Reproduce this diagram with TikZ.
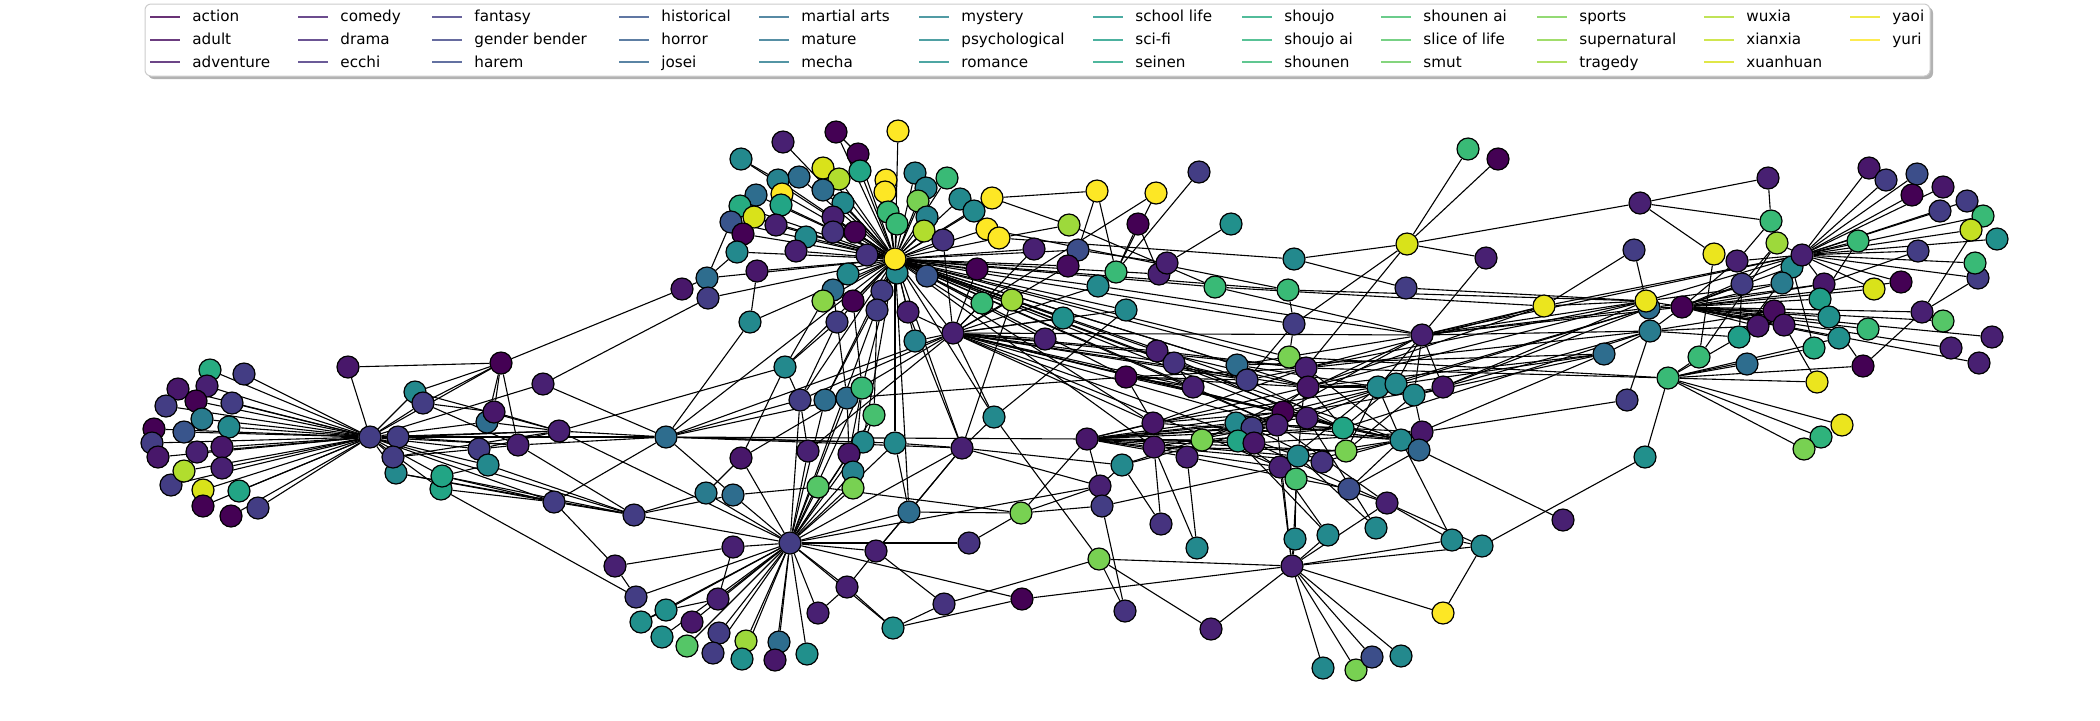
\documentclass[tikz,border=0pt]{standalone}
\usepackage{fontspec}
\setmainfont{DejaVu Sans}
\usetikzlibrary{backgrounds}
\definecolor{v0}{RGB}{68,1,84}
\definecolor{v1}{RGB}{70,12,95}
\definecolor{v2}{RGB}{72,23,106}
\definecolor{v3}{RGB}{72,32,114}
\definecolor{v4}{RGB}{71,42,121}
\definecolor{v5}{RGB}{70,51,127}
\definecolor{v6}{RGB}{67,61,132}
\definecolor{v7}{RGB}{64,70,135}
\definecolor{v8}{RGB}{60,78,138}
\definecolor{v9}{RGB}{57,85,140}
\definecolor{v10}{RGB}{53,94,141}
\definecolor{v11}{RGB}{49,102,142}
\definecolor{v12}{RGB}{46,109,142}
\definecolor{v13}{RGB}{44,116,142}
\definecolor{v14}{RGB}{41,123,142}
\definecolor{v15}{RGB}{38,130,142}
\definecolor{v16}{RGB}{35,137,141}
\definecolor{v17}{RGB}{33,144,140}
\definecolor{v18}{RGB}{31,151,139}
\definecolor{v19}{RGB}{32,158,136}
\definecolor{v20}{RGB}{34,165,133}
\definecolor{v21}{RGB}{39,172,129}
\definecolor{v22}{RGB}{47,179,124}
\definecolor{v23}{RGB}{57,186,118}
\definecolor{v24}{RGB}{71,192,111}
\definecolor{v25}{RGB}{85,198,103}
\definecolor{v26}{RGB}{102,203,93}
\definecolor{v27}{RGB}{120,209,82}
\definecolor{v28}{RGB}{138,213,71}
\definecolor{v29}{RGB}{157,217,59}
\definecolor{v30}{RGB}{177,221,46}
\definecolor{v31}{RGB}{197,224,35}
\definecolor{v32}{RGB}{217,226,26}
\definecolor{v33}{RGB}{235,229,30}
\definecolor{v34}{RGB}{253,231,37}
\tikzset{
  nd/.style={circle, draw=black, line width=0.6pt, minimum size=11pt, inner sep=0pt},
  ed/.style={line width=0.55pt, black},
  legline/.style={line width=1pt, opacity=0.8},
  legtext/.style={anchor=base west, inner sep=0pt, font=\fontsize{7.6}{9}\selectfont}
}
\begin{document}
\begin{tikzpicture}[x=0.5pt,y=-0.5pt]
\useasboundingbox (0,0) rectangle (2100,720);
% legend
\fill[black!60, opacity=0.5, rounded corners=3] (148,7) rectangle (1933,79);
\filldraw[fill=white, draw=black!20, line width=0.5pt, rounded corners=3] (145,4) rectangle (1930,76);
\foreach \x/\y/\c/\t in {
150/16.5/0/action,150/39.5/1/adult,150/62/2/adventure,
298/16.5/3/comedy,298/39.5/4/drama,298/62/5/ecchi,
432/16.5/6/fantasy,432/39.5/7/gender bender,432/62/8/harem,
619/16.5/9/historical,619/39.5/10/horror,619/62/11/josei,
759/16.5/12/martial arts,759/39.5/13/mature,759/62/14/mecha,
919/16.5/15/mystery,919/39.5/16/psychological,919/62/17/romance,
1093/16.5/18/school life,1093/39.5/19/sci-fi,1093/62/20/seinen,
1242/16.5/21/shoujo,1242/39.5/22/shoujo ai,1242/62/23/shounen,
1381/16.5/24/shounen ai,1381/39.5/25/slice of life,1381/62/26/smut,
1537/16.5/27/sports,1537/39.5/28/supernatural,1537/62/29/tragedy,
1704/16.5/30/wuxia,1704/39.5/31/xianxia,1704/62/32/xuanhuan,
1850/16.5/33/yaoi,1850/39.5/34/yuri}{
  \coordinate (l\c a) at (\x,\y);
  \coordinate (l\c b) at (\x+30,\y);
  \draw[legline, color=v\c] (l\c a) -- (l\c b);
  \node[legtext] (lt\c) at (\x+42,\y+5) {\t};
}
% nodes
\foreach \i/\x/\y/\c in {
1/210/370/21,2/178/389/2,3/207/386/3,4/244/374/6,5/196/401/0,6/166/406/6,7/232/403/6,
8/202/419/14,9/229/427/16,10/154/429/0,11/184/432/9,12/152/443/6,13/158/457/2,14/197/452/3,
15/222/447/2,18/171/485/6,16/184/471/30,17/222/468/3,19/203/490/32,20/239/491/20,21/203/506/0,
22/231/516/0,23/258/508/6,24/370/437/6,25/348/367/2,26/398/437/6,28/396/473/16,27/393/457/6,
29/415/392/16,30/423/403/6,32/441/489/20,31/442/476/20,33/479/449/6,34/488/465/16,35/487/422/12,
36/494/412/2,37/518/445/3,38/501/363/0,39/543/384/3,40/559/431/3,41/554/502/6,42/634/515/6,
43/615/566/3,44/636/597/6,45/666/437/12,46/790/543/6,47/733/547/3,48/706/493/14,49/733/495/12,
50/741/458/2,51/718/599/3,52/666/610/17,53/641/622/17,54/692/622/2,55/662/637/17,56/719/633/6,
57/746/641/29,58/779/642/12,59/687/646/25,60/713/653/6,61/742/659/17,62/775/660/2,63/807/654/17,
64/818/613/3,65/847/587/3,66/876/551/3,67/893/628/17,
68/783/142/3,69/836/132/0,70/898/131/34,71/741/159/16,72/858/154/0,73/823/168/32,74/839/179/30,
75/860/171/20,76/799/177/12,77/778/180/15,78/782/194/34,79/823/190/12,80/886/180/34,81/885/192/34,
82/756/195/12,83/843/203/16,84/740/206/21,85/781/205/20,86/888/212/23,87/754/217/32,88/731/222/9,
89/833/217/3,90/776/225/3,91/897/224/23,92/743/234/0,93/833/232/5,94/855/232/0,95/806/237/16,
96/796/251/3,97/737/252/16,98/867/255/5,100/897/273/16,99/895/259/34,101/757/271/2,102/707/278/12,
103/848/274/16,104/682/289/2,105/708/298/6,106/833/290/12,107/882/291/6,108/823/301/28,
109/853/301/0,110/877/310/6,111/837/322/6,112/750/322/16,113/908/312/3,114/785/367/16,
115/915/173/15,116/947/178/23,117/926/188/15,118/960/199/16,119/918/201/27,120/992/198/34,
121/974/211/16,122/927/217/15,123/924/231/30,124/987/229/34,125/999/238/34,126/943/240/5,
127/1097/191/34,128/1156/193/34,129/1199/172/6,130/1231/224/17,131/1069/225/29,132/1138/224/0,
133/1034/249/3,134/1078/250/8,135/927/276/9,136/977/269/0,137/1068/266/1,138/1116/272/23,
139/1159/274/3,140/1167/263/3,141/1098/286/16,142/1215/287/23,143/982/303/23,144/1012/300/29,
145/1126/310/16,146/1063/318/17,147/915/341/15,148/953/333/3,149/1045/339/3,150/1157/351/3,
151/1174/363/5,152/1126/377/0,153/1193/387/3,154/1237/365/12,155/1247/380/6,
156/1468/149/23,157/1498/159/0,158/1640/203/3,159/1407/244/32,160/1294/259/16,161/1486/258/3,
162/1288/290/23,163/1406/288/6,164/1634/250/6,165/1544/306/33,166/1649/308/12,167/1646/301/33,
168/1294/324/6,169/1422/335/3,170/1650/331/14,171/1604/354/12,172/1289/357/27,173/1306/368/3,
174/1308/387/2,175/1378/387/16,176/1396/384/16,177/1414/395/16,178/1443/387/2,180/1627/400/6,
181/1768/178/3,182/1869/168/2,183/1886/180/6,184/1917/174/8,185/1912/195/0,186/1943/187/2,
187/1967/201/6,188/1940/211/6,189/1983/216/23,190/1971/230/31,191/1997/239/17,192/1771/221/23,
193/1777/243/29,194/1858/241/23,195/1714/254/33,196/1737/261/3,197/1792/267/16,198/1802/255/3,
199/1918/251/6,200/1978/278/6,201/1975/263/23,202/1742/284/6,203/1782/283/14,204/1824/284/2,
205/1901/282/0,206/1874/289/32,207/1820/299/19,208/1682/307/0,209/1774/311/1,210/1829/317/17,
211/1922/312/3,212/1943/321/25,213/1758/326/2,214/1784/325/2,215/1739/337/19,216/1868/329/23,
217/1839/338/17,218/1992/337/3,219/1951/348/3,220/1814/348/21,221/1699/357/23,222/1747/364/12,
223/1863/366/0,224/1979/363/3,225/1668/378/23,226/1817/382/33,227/1842/425/33,228/1821/437/22,
229/1804/449/27,230/1645/457/17,
231/994/417/16,232/895/443/16,233/962/448/3,234/1087/439/2,235/1153/423/2,236/1154/447/2,
237/1202/440/27,238/1187/457/3,239/1236/423/16,240/1252/428/6,241/1238/441/20,242/1254/443/2,
243/1283/412/0,244/1277/425/3,245/1307/418/3,246/1280/467/3,247/1122/465/16,248/1100/486/3,
249/1102/506/6,250/909/512/12,251/1021/513/27,252/1161/524/5,253/969/543/5,254/1197/548/16,
255/1099/559/27,256/944/604/5,257/1022/599/0,258/1125/611/5,259/1211/629/3,
262/1343/428/20,263/1422/432/2,264/1401/440/16,265/1419/450/11,266/1346/451/27,267/1298/456/16,
268/1322/462/5,269/1296/479/24,270/1349/489/8,271/1387/503/3,272/1563/520/3,273/1376/528/16,
274/1328/535/16,275/1295/539/16,276/1452/540/16,277/1482/546/16,278/1292/566/3,279/1443/613/34,
280/1323/668/16,281/1356/670/27,282/1372/657/8,283/1401/656/16,
284/800/400/6,285/825/400/12,286/847/398/12,287/862/388/23,288/874/415/24,289/863/442/16,
290/808/451/3,291/849/454/2,292/853/472/15,293/818/487/25,294/853/488/27}{
  \node[nd, fill=v\c] (n\i) at (\x,\y) {};
}
% edges
\begin{pgfonlayer}{background}
\foreach \a/\b in {
1/24,2/24,3/24,4/24,5/24,6/24,7/24,8/24,9/24,10/24,11/24,12/24,13/24,14/24,15/24,16/24,17/24,
18/24,19/24,20/24,21/24,22/24,23/24,
24/25,24/26,24/27,24/28,24/29,24/30,24/31,24/32,24/33,24/34,24/37,24/40,24/41,24/45,24/38,24/42,24/35,
25/38,38/29,38/30,38/35,38/36,38/37,38/104,
26/37,26/40,26/45,27/33,27/40,28/41,28/42,29/40,30/37,30/36,31/34,31/41,31/42,32/41,32/44,
33/37,33/40,34/42,35/40,36/40,37/45,37/42,39/24,39/105,39/45,40/45,40/114,40/46,41/42,41/43,
41/45,42/48,42/49,42/46,43/44,43/47,44/46,45/49,45/112,45/234,45/232,45/289,45/284,45/286,45/233,
47/46,47/51,48/50,48/46,49/46,49/293,50/46,50/114,51/52,51/46,52/46,53/46,53/52,54/46,55/46,
56/46,57/46,58/46,59/46,60/46,61/46,62/46,63/46,64/46,64/65,65/46,65/66,65/67,66/46,66/250,
66/256,66/233,67/46,67/257,67/256,
46/284,46/285,46/286,46/287,46/288,46/289,46/290,46/291,46/292,46/293,46/294,46/232,46/233,
46/253,46/257,46/248,46/250,
284/111,284/114,285/107,286/106,287/109,288/110,291/286,291/287,292/288,294/287,290/284,293/251,289/99,
68/99,69/99,70/99,71/99,72/99,73/99,74/99,75/99,76/99,77/99,78/99,79/99,80/99,81/99,82/99,83/99,
84/99,85/99,86/99,87/99,88/99,89/99,90/99,91/99,92/99,93/99,94/99,95/99,96/99,97/99,98/99,100/99,
101/99,102/99,103/99,105/99,106/99,107/99,108/99,109/99,110/99,111/99,112/99,113/99,114/99,
115/99,116/99,117/99,118/99,119/99,120/99,121/99,122/99,123/99,124/99,125/99,126/99,133/99,
134/99,135/99,136/99,137/99,139/99,141/99,142/99,143/99,144/99,145/99,146/99,147/99,148/99,
149/99,150/99,151/99,152/99,153/99,154/99,155/99,162/99,168/99,172/99,173/99,174/99,231/99,
232/99,233/99,250/99,284/99,285/99,287/99,46/99,45/99,235/99,236/99,244/99,262/99,
69/72,71/77,97/102,101/112,102/104,92/97,88/102,84/97,108/114,111/114,
148/147,148/126,148/136,148/143,148/144,148/133,148/137,148/146,148/141,148/149,148/145,
148/150,148/151,148/153,148/173,148/174,148/155,148/169,148/284,148/290,148/50,148/231,148/113,148/45,
148/235,148/243,148/245,148/246,148/262,148/267,
120/127,120/131,125/131,125/160,124/162,127/134,127/138,128/138,128/143,129/138,130/140,131/142,
132/138,132/139,134/140,141/169,142/169,142/165,146/149,152/153,152/155,152/173,152/174,
152/286,150/173,150/174,151/155,151/153,154/169,155/173,155/168,154/171,152/243,150/245,151/264,
153/244,155/262,154/175,
159/156,159/157,159/161,159/158,159/160,159/168,159/173,160/163,162/168,162/167,163/167,161/169,
164/165,164/167,165/169,167/169,169/178,169/177,169/170,169/166,169/176,169/175,169/208,169/198,
170/171,172/168,172/225,173/225,173/170,175/166,176/166,177/170,177/171,178/167,178/166,165/167,
165/198,158/181,158/192,158/195,171/174,171/175,165/174,167/173,173/165,174/167,264/171,262/170,
198/182,198/183,198/184,198/185,198/186,198/187,198/188,198/189,198/190,198/191,198/193,198/194,
198/199,198/200,198/201,198/203,198/204,198/206,198/196,198/197,198/167,198/208,198/205,
208/196,208/197,208/202,208/203,208/204,208/205,208/206,208/207,208/209,208/210,208/211,208/212,
208/213,208/214,208/216,208/217,208/219,208/218,208/224,208/170,208/166,208/167,
225/221,225/222,225/223,225/226,225/227,225/228,225/229,225/230,225/215,225/220,225/217,
221/195,221/193,215/202,215/197,214/226,220/197,223/211,223/210,211/189,211/200,194/207,199/204,
181/192,192/193,192/196,193/202,170/215,170/209,170/213,167/203,166/204,
173/264,173/235,173/174,174/175,174/176,174/234,174/241,174/262,
243/234,243/99,243/169,243/176,243/264,243/247,
244/234,244/148,244/264,244/263,244/271,244/247,
245/234,245/262,245/264,245/273,245/176,
246/234,246/249,246/274,246/271,246/264,246/175,
262/234,262/264,262/176,262/237,262/239,
266/175,266/177,266/236,266/234,
267/269,267/234,267/173,267/264,267/273,
268/264,268/236,268/240,269/275,269/241,270/265,270/264,270/238,
271/276,271/277,271/242,274/241,275/278,
278/255,278/257,278/259,278/276,278/277,278/279,278/280,278/281,278/282,278/283,278/274,
278/267,278/271,278/246,278/244,
264/175,235/234,235/152,235/264,235/176,235/243,236/234,236/252,236/254,236/244,
237/234,237/169,238/234,238/254,239/234,239/178,240/234,240/176,241/234,242/234,242/263,
247/248,247/252,247/233,248/249,248/233,248/234,249/251,249/258,251/250,251/253,251/234,
251/248,250/232,250/233,232/233,233/231,233/113,233/144,231/145,231/255,255/256,255/258,
255/259,277/279,277/276,277/230,272/265,180/263,180/170,263/177,265/264,276/264}{
  \draw[ed] (n\a) -- (n\b);
}
\end{pgfonlayer}
\end{tikzpicture}
\end{document}
